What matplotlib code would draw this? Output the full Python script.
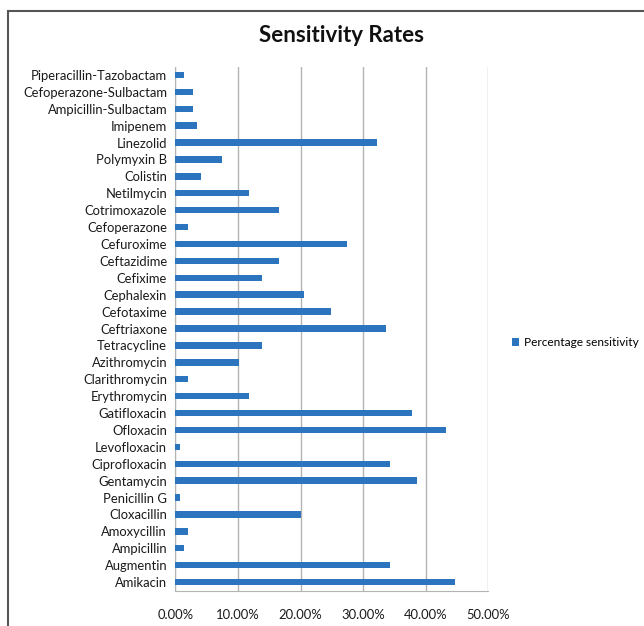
import matplotlib.pyplot as plt
from matplotlib.patches import Rectangle
from matplotlib.ticker import FuncFormatter

plt.rcParams['font.family'] = ['Lato', 'DejaVu Sans']

# drugs listed bottom to top
drugs = ['Amikacin', 'Augmentin', 'Ampicillin', 'Amoxycillin', 'Cloxacillin',
         'Penicillin G', 'Gentamycin', 'Ciprofloxacin', 'Levofloxacin',
         'Ofloxacin', 'Gatifloxacin', 'Erythromycin', 'Clarithromycin',
         'Azithromycin', 'Tetracycline', 'Ceftriaxone', 'Cefotaxime',
         'Cephalexin', 'Cefixime', 'Ceftazidime', 'Cefuroxime', 'Cefoperazone',
         'Cotrimoxazole', 'Netilmycin', 'Colistin', 'Polymyxin B', 'Linezolid',
         'Imipenem', 'Ampicillin-Sulbactam', 'Cefoperazone-Sulbactam',
         'Piperacillin-Tazobactam']
sensitivity = [0.447, 0.344, 0.013, 0.020, 0.200,
               0.007, 0.386, 0.344, 0.007,
               0.433, 0.379, 0.117, 0.020,
               0.102, 0.138, 0.337, 0.248,
               0.206, 0.138, 0.165, 0.275, 0.020,
               0.165, 0.117, 0.041, 0.075, 0.323,
               0.034, 0.0275, 0.0275,
               0.013]
xticks = [0, 0.1, 0.2, 0.3, 0.4, 0.5]

fig = plt.figure(figsize=(6.44, 6.26), dpi=100)
ax = fig.add_axes([175.5 / 644, 1 - 590.5 / 626, 312.5 / 644, 524 / 626])

ax.barh(range(len(drugs)), sensitivity, height=0.38, color='#2C74BE',
        label='Percentage sensitivity', zorder=3)

ax.set_xlim(0, 0.5)
ax.set_ylim(-0.5, len(drugs) - 0.5)
ax.set_xticks(xticks)
ax.xaxis.set_major_formatter(FuncFormatter(lambda v, p: f'{v * 100:.2f}%'))
ax.set_yticks(range(len(drugs)))
ax.set_yticklabels(drugs)
ax.tick_params(axis='both', length=0, labelsize=9.4, colors='#1a1a1a')
ax.tick_params(axis='x', pad=13)
ax.tick_params(axis='y', pad=6)
ax.grid(axis='x', color='#b3b3b3', linewidth=1, zorder=0)
for side in ['top', 'right']:
    ax.spines[side].set_visible(False)
for side in ['left', 'bottom']:
    ax.spines[side].set_color('#b3b3b3')

fig.text(342 / 644, 1 - 36 / 626, 'Sensitivity Rates', ha='center', va='center',
         fontsize=16, fontweight='bold', color='#111111')

fig.legend(loc='center left', bbox_to_anchor=(506 / 644, 1 - 343 / 626),
           frameon=False, fontsize=8.6, handlelength=0.6, handleheight=0.6,
           handletextpad=0.4, borderpad=0)

# outer chart frame
fig.patches.append(Rectangle((8 / 644, -0.05), 1.1, 1 - 11 / 626 + 0.05,
                             transform=fig.transFigure, fill=False,
                             edgecolor='#555555', linewidth=1.5))

fig.savefig('out.png', dpi=100)
